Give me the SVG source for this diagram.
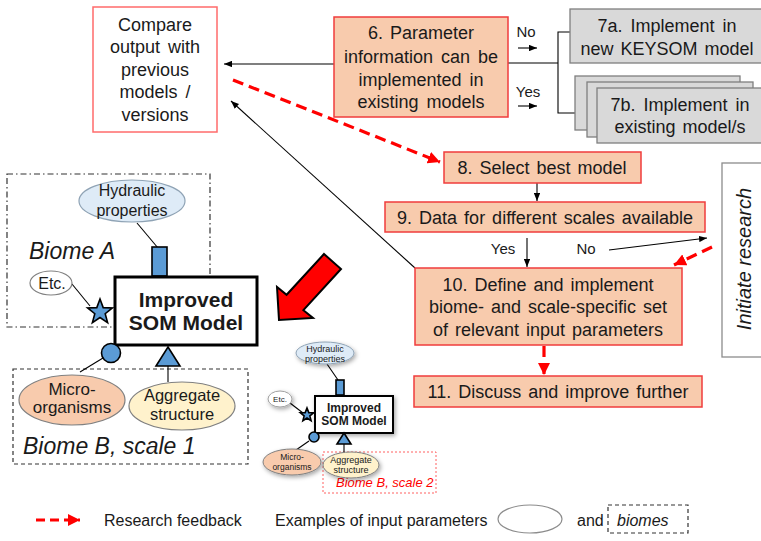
<svg xmlns="http://www.w3.org/2000/svg" width="761" height="541" viewBox="0 0 761 541">
<style>
text{font-family:"Liberation Sans",Arial,sans-serif;fill:#1a1a1a}
.t18{font-size:18px;text-anchor:middle}
.t16{font-size:16px}
.t15{font-size:15px;text-anchor:middle}
.peach{fill:#F8CBAD;stroke:#F03C3C;stroke-width:1.5}
.gray{fill:#D9D9D9;stroke:#7F7F7F;stroke-width:1.3}
.conn{stroke:#000;stroke-width:1.1;fill:none}
.red{stroke:#FF0000;stroke-width:3.2;stroke-dasharray:11,6;fill:none}
.blue{fill:#5B9BD5;stroke:#000;stroke-width:1.6}
.bold{font-weight:bold;text-anchor:middle}
.it{font-style:italic}
.mid{text-anchor:middle}
</style>
<defs>
<marker id="ab" viewBox="0 0 10 8" refX="10" refY="4" markerWidth="8" markerHeight="6.4" orient="auto" markerUnits="userSpaceOnUse"><path d="M0,0 L10,4 L0,8 z" fill="#000"/></marker>
<marker id="ar" viewBox="0 0 10 10" refX="10" refY="5" markerWidth="12" markerHeight="12" orient="auto" markerUnits="userSpaceOnUse"><path d="M0,0 L10,5 L0,10 z" fill="#FF0000"/></marker>
<filter id="sh" x="-30%" y="-30%" width="160%" height="160%"><feDropShadow dx="1.5" dy="2" stdDeviation="2" flood-color="#000" flood-opacity="0.35"/></filter>
</defs>

<g id="connectors">
<line class="conn" x1="334" y1="64" x2="224" y2="64" marker-end="url(#ab)"/>
<polyline class="conn" points="508,63 558,63"/>
<polyline class="conn" points="570,32 558,32 558,113 575,113"/>
<line class="conn" x1="518" y1="48" x2="537" y2="48" marker-end="url(#ab)"/>
<line class="conn" x1="518" y1="106" x2="537" y2="106" marker-end="url(#ab)"/>
<line class="conn" x1="415" y1="268" x2="231" y2="101" marker-end="url(#ab)"/>
<line class="conn" x1="537" y1="183" x2="537" y2="201" marker-end="url(#ab)"/>
<line class="conn" x1="527" y1="238" x2="527" y2="267" marker-end="url(#ab)"/>
<line class="conn" x1="609" y1="250" x2="707" y2="238" marker-end="url(#ab)"/>
<line class="red" x1="233" y1="80" x2="440" y2="162" marker-end="url(#ar)"/>
<line class="red" x1="712" y1="247" x2="674" y2="265" marker-end="url(#ar)"/>
<line class="red" x1="544" y1="346" x2="544" y2="375" marker-end="url(#ar)"/>
<text class="t15" x="526" y="37">No</text>
<text class="t15" x="528" y="97">Yes</text>
<text class="t15" x="503" y="254">Yes</text>
<text class="t15" x="586" y="254">No</text>
</g>

<g id="compare">
<rect x="93" y="7" width="124" height="125" fill="#fff" stroke="#FF6B6B" stroke-width="1.5"/>
<text class="t18" x="155" y="31">Compare</text>
<text class="t18" x="155" y="53" word-spacing="3">output with</text>
<text class="t18" x="155" y="76">previous</text>
<text class="t18" x="155" y="98" word-spacing="3">models /</text>
<text class="t18" x="155" y="121">versions</text>
</g>

<g id="step6">
<rect class="peach" x="334" y="17" width="174" height="100"/>
<text class="t18" x="421" y="39" word-spacing="2">6. Parameter</text>
<text class="t18" x="421" y="63" word-spacing="3">information can be</text>
<text class="t18" x="421" y="86" word-spacing="3">implemented in</text>
<text class="t18" x="421" y="108" word-spacing="3">existing models</text>
</g>

<g id="step7a">
<rect class="gray" x="570" y="9" width="195" height="54"/>
<text class="t18" x="667" y="32" word-spacing="3">7a. Implement in</text>
<text class="t18" x="667" y="55" word-spacing="2">new KEYSOM model</text>
</g>

<g id="step7b">
<rect class="gray" x="575" y="76" width="165" height="54"/>
<rect class="gray" x="587" y="82" width="166" height="55"/>
<rect class="gray" x="597" y="88" width="170" height="55"/>
<text class="t18" x="680" y="111" word-spacing="3">7b. Implement in</text>
<text class="t18" x="680" y="133" word-spacing="2">existing model/s</text>
</g>

<g id="step8">
<rect class="peach" x="444" y="152" width="197" height="31"/>
<text class="t18" x="542" y="174" word-spacing="2">8. Select best model</text>
</g>

<g id="step9">
<rect class="peach" x="385" y="202" width="320" height="30"/>
<text class="t18" x="545" y="224" word-spacing="2">9. Data for different scales available</text>
</g>

<g id="step10">
<rect class="peach" x="415" y="268" width="267" height="77"/>
<text class="t18" x="548" y="291" word-spacing="2">10. Define and implement</text>
<text class="t18" x="548" y="313" word-spacing="2">biome- and scale-specific set</text>
<text class="t18" x="548" y="336" word-spacing="2">of relevant input parameters</text>
</g>

<g id="step11">
<rect class="peach" x="414" y="376" width="288" height="31"/>
<text class="t18" x="558" y="398" word-spacing="2">11. Discuss and improve further</text>
</g>

<g id="initiate">
<rect x="722" y="163" width="45" height="194" fill="#fff" stroke="#8C8C8C" stroke-width="1.3"/>
<text class="it mid" font-size="20" transform="translate(751,259) rotate(-90)">Initiate research</text>
</g>

<g id="bigarrow">
<polygon points="324,254 341,269 303.4,310.2 313,318 279,320 277,287 286.6,294.8" fill="#FF0000" stroke="#000" stroke-width="2" stroke-linejoin="miter"/>
</g>

<g id="som-model-large">
<rect x="7" y="174" width="203" height="153" fill="none" stroke="#333" stroke-width="1.2" stroke-dasharray="6,3,1.5,3"/>
<rect x="13" y="369" width="235" height="95" fill="none" stroke="#333" stroke-width="1.2" stroke-dasharray="4,3"/>
<text class="it" x="29" y="259" font-size="23">Biome A</text>
<text class="it" x="23" y="454" font-size="23">Biome B, scale 1</text>
<line class="conn" x1="137" y1="223" x2="158" y2="248" stroke-width="1.5"/>
<line class="conn" x1="72" y1="284" x2="90" y2="306" stroke-width="1.5"/>
<line class="conn" x1="103" y1="358" x2="80" y2="372" stroke-width="1.5"/>
<line class="conn" x1="168" y1="366" x2="168" y2="382" stroke-width="1.5"/>
<ellipse cx="132" cy="201" rx="53" ry="21" fill="#DEEBF7" stroke="#8FA3B5" stroke-width="1.2"/>
<text class="mid" x="132" y="196" font-size="16">Hydraulic</text>
<text class="mid" x="132" y="216" font-size="16">properties</text>
<ellipse cx="51" cy="283" rx="21" ry="12" fill="#fff" stroke="#808080" stroke-width="1.2"/>
<text class="mid" x="52" y="289" font-size="16">Etc.</text>
<rect class="blue" x="152" y="247" width="15" height="29"/>
<rect x="115" y="277" width="142" height="68" fill="#fff" stroke="#000" stroke-width="3"/>
<text class="bold" x="186" y="307" font-size="21">Improved</text>
<text class="bold" x="186" y="330" font-size="21">SOM Model</text>
<polygon class="blue" points="100,299 103.2,307.6 112.4,308 105.2,313.7 107.6,322.6 100,317.5 92.4,322.6 94.8,313.7 87.6,308 96.8,307.6"/>
<circle class="blue" cx="111" cy="353" r="9.5"/>
<polygon class="blue" points="168,347 180,366 156,366"/>
<ellipse cx="72" cy="400" rx="53" ry="25" fill="#F8CBAD" stroke="#808080" stroke-width="1.2"/>
<text class="mid" x="72" y="395" font-size="17">Micro-</text>
<text class="mid" x="72" y="413" font-size="17">organisms</text>
<ellipse cx="182" cy="406" rx="53" ry="24" fill="#FFF2CC" stroke="#808080" stroke-width="1.2"/>
<text class="mid" x="182" y="401" font-size="16.5">Aggregate</text>
<text class="mid" x="182" y="420" font-size="16.5">structure</text>
</g>

<g id="som-model-small">
<rect x="323" y="452" width="113" height="41" fill="none" stroke="#FF6060" stroke-width="1" stroke-dasharray="2,2"/>
<text class="it" x="336" y="487" font-size="13" style="fill:#FF0000">Biome B, scale 2</text>
<line class="conn" x1="327" y1="364" x2="338" y2="380"/>
<line class="conn" x1="290" y1="403" x2="303" y2="413"/>
<line class="conn" x1="309" y1="441" x2="296" y2="450"/>
<line class="conn" x1="344" y1="444" x2="344" y2="453"/>
<g filter="url(#sh)">
<ellipse cx="325" cy="353" rx="29" ry="11" fill="#DEEBF7" stroke="#8FA3B5" stroke-width="1"/>
<ellipse cx="280" cy="399" rx="12" ry="8" fill="#fff" stroke="#A0A0A0" stroke-width="1"/>
<rect x="315" y="396" width="78" height="37" fill="#fff" stroke="#000" stroke-width="2"/>
<ellipse cx="292" cy="462" rx="29" ry="13" fill="#F8CBAD" stroke="#808080" stroke-width="1"/>
<ellipse cx="351" cy="465" rx="28" ry="13" fill="#FFF2CC" stroke="#808080" stroke-width="1"/>
</g>
<text class="mid" x="325" y="352" font-size="9">Hydraulic</text>
<text class="mid" x="325" y="362" font-size="9">properties</text>
<text class="mid" x="280" y="402" font-size="8">Etc.</text>
<rect class="blue" x="336" y="380" width="8" height="15" stroke-width="1"/>
<text class="bold" x="354" y="412" font-size="12">Improved</text>
<text class="bold" x="354" y="425" font-size="12">SOM Model</text>
<polygon class="blue" stroke-width="1" points="307,408 308.8,412.6 313.7,412.8 309.9,415.9 311.1,420.7 307,418 302.9,420.7 304.1,415.9 300.3,412.8 305.2,412.6"/>
<circle class="blue" cx="314" cy="437" r="5" stroke-width="1"/>
<polygon class="blue" stroke-width="1" points="344,433 351,444 337,444"/>
<text class="mid" x="292" y="460" font-size="8.5">Micro-</text>
<text class="mid" x="292" y="470" font-size="8.5">organisms</text>
<text class="mid" x="351" y="463" font-size="9">Aggregate</text>
<text class="mid" x="351" y="473" font-size="9">structure</text>
</g>

<g id="legend">
<line x1="36" y1="520" x2="80" y2="520" stroke="#FF0000" stroke-width="3.2" stroke-dasharray="9,5" marker-end="url(#ar)"/>
<text class="t16" x="104" y="526">Research feedback</text>
<text class="t16" x="275" y="526">Examples of input parameters</text>
<ellipse cx="530" cy="519" rx="32" ry="14" fill="#fff" stroke="#8C8C8C" stroke-width="1.2"/>
<text class="t16" x="577" y="526">and</text>
<rect x="608" y="505" width="80" height="28" fill="none" stroke="#333" stroke-width="1.2" stroke-dasharray="4,3"/>
<text class="t16 it" x="617" y="526">biomes</text>
</g>
</svg>
